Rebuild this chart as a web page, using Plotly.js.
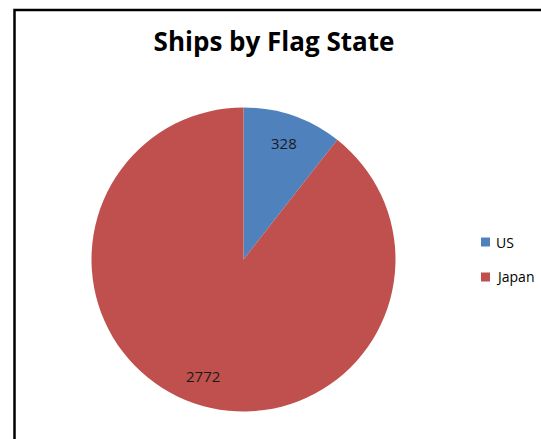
<!DOCTYPE html>
<html>
<head>
<meta charset="utf-8">
<script src="https://cdn.plot.ly/plotly-3.0.1.min.js"></script>
<style>html,body{margin:0;padding:0;background:#fff;}#chart{width:541px;height:439px;}</style>
</head>
<body>
<div id="chart"></div>
<script>
const labels = ['US', 'Japan'];
const values = [328, 2772];
const colors = ['#4F81BD', '#C0504D'];
const chartTitle = 'Ships by Flag State';

const W = 541, H = 439;
// pie geometry in pixels
const cxPx = 243.5, cyPx = 259.5, R = 152;
const domX = [(cxPx - R) / W, (cxPx + R) / W];
const domY = [(H - cyPx - R) / H, (H - cyPx + R) / H];

const total = values.reduce((a, b) => a + b, 0);
const annotations = [];
let cum = 0;
values.forEach((v, i) => {
  const mid = (cum + v / 2) / total * 2 * Math.PI;
  cum += v;
  const r = 0.81 * R;
  const xp = cxPx + r * Math.sin(mid);
  const yp = cyPx - r * Math.cos(mid);
  annotations.push({
    x: xp / W, y: (H - yp) / H, xref: 'paper', yref: 'paper',
    xanchor: 'center', yanchor: 'middle',
    text: String(v), showarrow: false,
    font: {family: 'Open Sans', size: 15, color: '#1a1a1a'}
  });
});

// legend (manual)
const shapes = [];
const legX = 481, legY0 = 242, legDy = 35, sq = 9;
labels.forEach((lab, i) => {
  const y = legY0 + i * legDy;
  shapes.push({
    type: 'rect', xref: 'paper', yref: 'paper',
    x0: legX / W, x1: (legX + sq) / W,
    y0: (H - (y + sq / 2)) / H, y1: (H - (y - sq / 2)) / H,
    fillcolor: colors[i], line: {width: 0}
  });
  annotations.push({
    x: (legX + sq + 4) / W, y: (H - y) / H, xref: 'paper', yref: 'paper',
    xanchor: 'left', yanchor: 'middle',
    text: lab, showarrow: false,
    font: {family: 'Open Sans', size: 14, color: '#000'}
  });
});

// chart border
shapes.push({
  type: 'rect', xref: 'paper', yref: 'paper',
  x0: 14.5 / W, x1: 1.2, y0: -0.2, y1: (H - 10) / H,
  line: {color: '#000', width: 2.5}, fillcolor: 'rgba(0,0,0,0)'
});

const data = [{
  type: 'pie',
  labels: labels,
  values: values,
  marker: {colors: colors, line: {width: 0}},
  sort: false,
  direction: 'clockwise',
  rotation: 0,
  textinfo: 'none',
  hoverinfo: 'none',
  domain: {x: domX, y: domY},
  showlegend: false
}];

const layout = {
  width: W, height: H,
  margin: {l: 0, r: 0, t: 0, b: 0},
  paper_bgcolor: '#fff',
  title: {
    text: '<b>' + chartTitle + '</b>',
    x: 274 / W, xanchor: 'center', xref: 'paper',
    y: 1 - 42 / H, yanchor: 'middle', yref: 'container',
    font: {family: 'Open Sans', size: 26, color: '#000'}
  },
  showlegend: false,
  shapes: shapes,
  annotations: annotations
};

Plotly.newPlot('chart', data, layout, {staticPlot: true});
</script>
</body>
</html>
